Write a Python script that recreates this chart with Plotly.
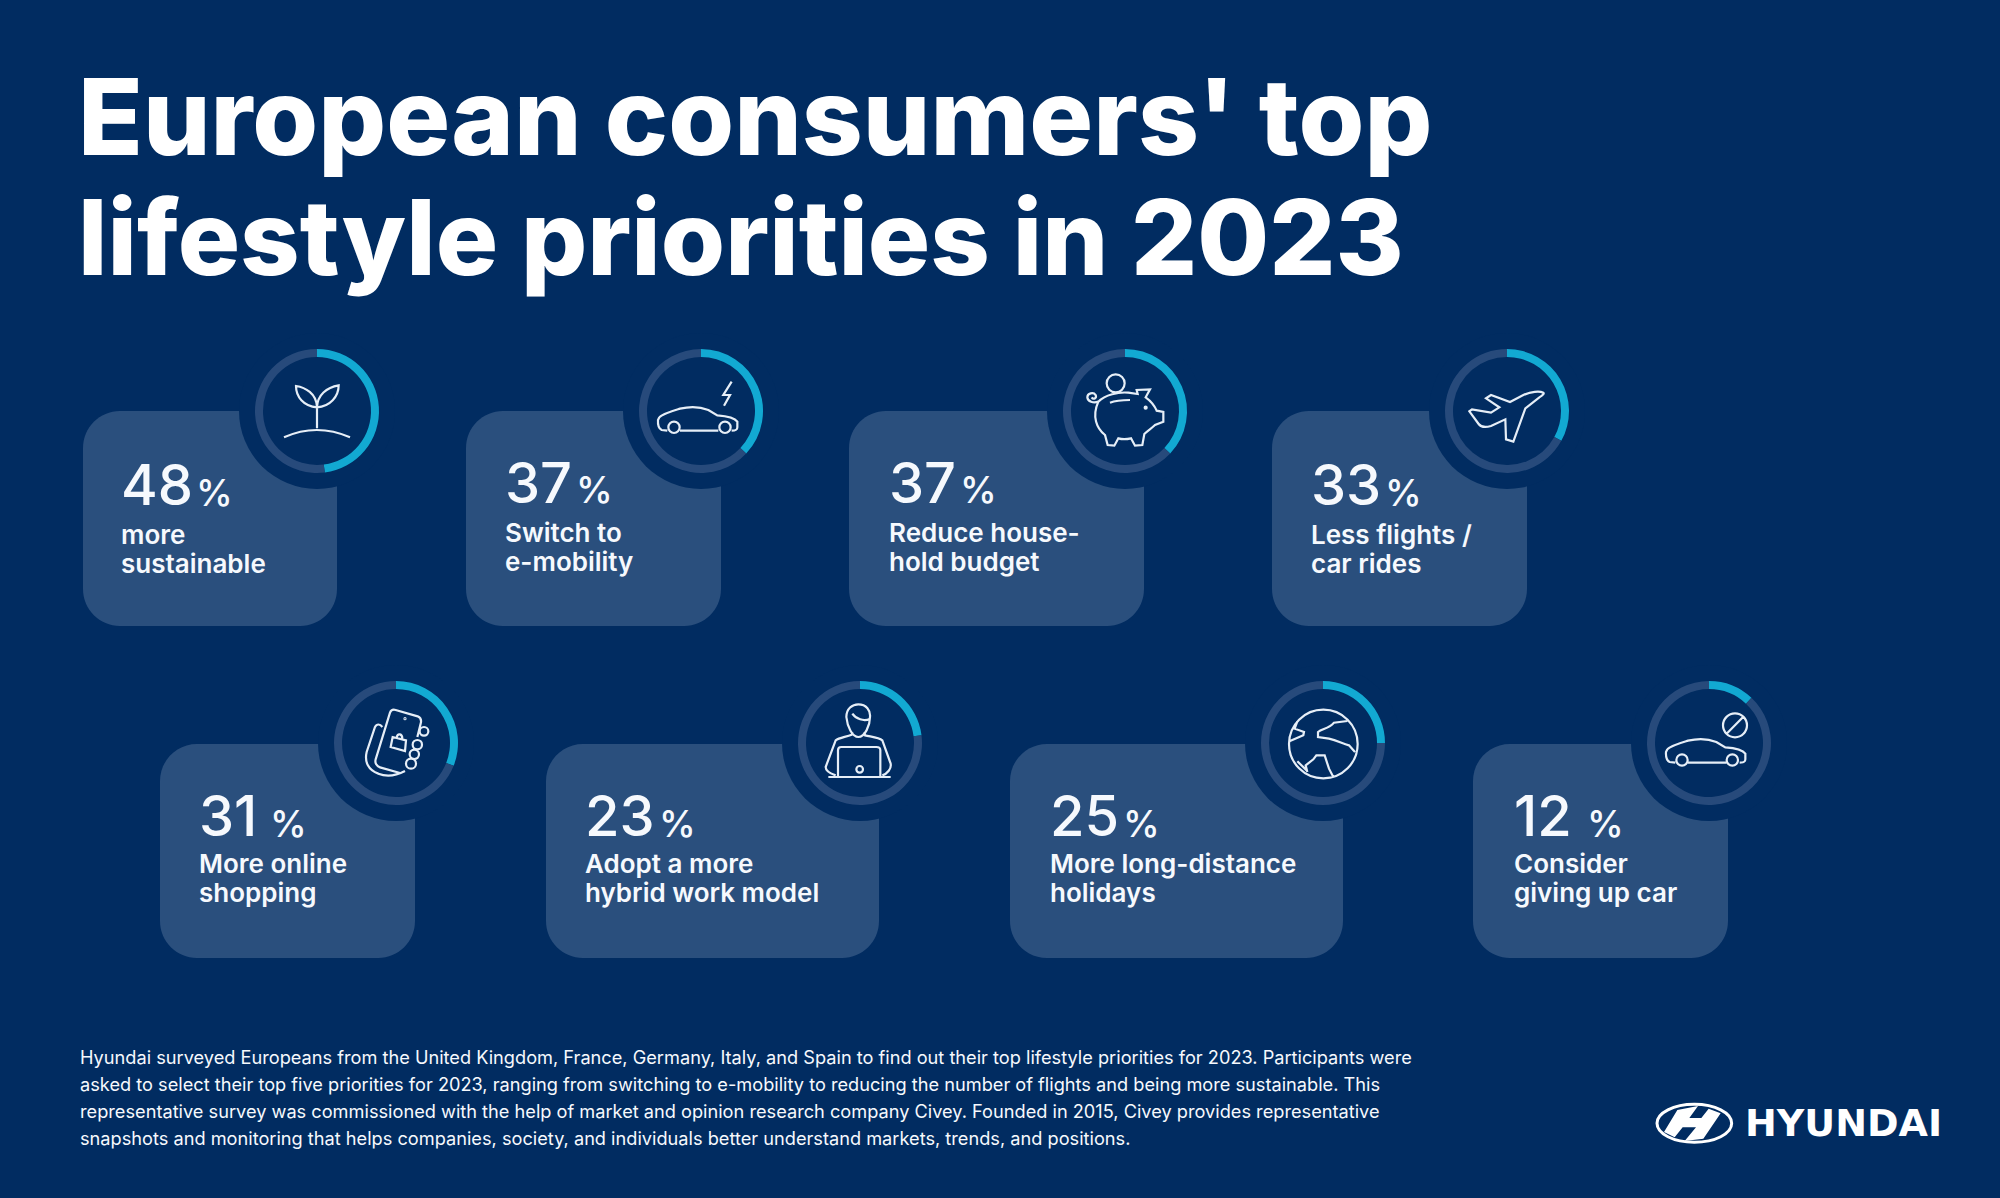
import re
import plotly.graph_objects as go

W, H = 2000, 1198
BG, CARD, TRACK, ARC, INK = "#012c61", "#2a4f7d", "#274a7b", "#12a9d2", "#f6f9fd"
LINE = "#e6eef7"

# ---------- data ----------
values = [48, 37, 37, 33, 31, 23, 25, 12]
labels = [
    ["more", "sustainable"],
    ["Switch to", "e-mobility"],
    ["Reduce house-", "hold budget"],
    ["Less flights /", "car rides"],
    ["More online", "shopping"],
    ["Adopt a more", "hybrid work model"],
    ["More long-distance", "holidays"],
    ["Consider", "giving up car"],
]
title_lines = ["European consumers' top", "lifestyle priorities in 2023"]
footnote = [
    "Hyundai surveyed Europeans from the United Kingdom, France, Germany, Italy, and Spain to find out their top lifestyle priorities for 2023. Participants were",
    "asked to select their top five priorities for 2023, ranging from switching to e-mobility to reducing the number of flights and being more sustainable. This",
    "representative survey was commissioned with the help of market and opinion research company Civey. Founded in 2015, Civey provides representative",
    "snapshots and monitoring that helps companies, society, and individuals better understand markets, trends, and positions.",
]
brand = "HYUNDAI"

# ---------- layout geometry (pixels) ----------
cards = [(83, 337, 411, 626), (466, 721, 411, 626), (849, 1144, 411, 626), (1272, 1527, 411, 626),
         (160, 415, 744, 958), (546, 879, 744, 958), (1010, 1343, 744, 958), (1473, 1728, 744, 958)]
centers = [(317, 411), (701, 411), (1125, 411), (1507, 411),
           (396, 743), (860, 743), (1323, 743), (1709, 743)]
text_x = [120, 504, 888, 1310, 198, 584, 1049, 1513]
pct_x = [195, 575, 959, 1384, 269, 658, 1122, 1586]
num_y = [485, 483, 483, 485, 816, 816, 816, 816]
lab_y = [(534, 563), (532, 561), (532, 561), (534, 563), (863, 892), (863, 892), (863, 892), (863, 892)]
foot_y = [1057, 1084, 1111, 1138]
title_y = [116, 237]
title_size = [106.5, 104]


def fx(x):
    return x / W


def fy(y):
    return 1 - y / H


def tr(path, ox=0.0, oy=0.0, s=1.0):
    out, i = [], 0
    for t in re.findall(r"[MLCQZ]|-?\d+\.?\d*", path):
        if t.isalpha():
            out.append(t)
        else:
            v = float(t)
            if i % 2 == 0:
                out.append(f"{fx(ox + v * s):.5f},")
            else:
                out.append(f"{fy(oy + v * s):.5f}")
            i += 1
    return " ".join(out).replace(", ", ",")


def circ(cx, cy, r):
    k = 0.5523 * r
    return (f"M{cx-r},{cy} C{cx-r},{cy-k} {cx-k},{cy-r} {cx},{cy-r} C{cx+k},{cy-r} {cx+r},{cy-k} {cx+r},{cy} "
            f"C{cx+r},{cy+k} {cx+k},{cy+r} {cx},{cy+r} C{cx-k},{cy+r} {cx-r},{cy+k} {cx-r},{cy} Z")


def rrect(x0, x1, y0, y1, r):
    k = r * 0.4477
    return (f"M{x0+r},{y0} L{x1-r},{y0} C{x1-k},{y0} {x1},{y0+k} {x1},{y0+r} L{x1},{y1-r} "
            f"C{x1},{y1-k} {x1-k},{y1} {x1-r},{y1} L{x0+r},{y1} C{x0+k},{y1} {x0},{y1-k} {x0},{y1-r} "
            f"L{x0},{y0+r} C{x0},{y0+k} {x0+k},{y0} {x0+r},{y0} Z")


CAR = ("M88,232 C100,220 130,212 150,206 C175,200 210,200 235,210 L262,226 C290,228 315,235 322,245 L322,262 "
       "C322,270 318,272 305,272 M265,272 L150,272 M112,272 L95,270 C85,265 83,255 84,240 L88,232 ")

icons = [
    # icon paths are traced in 3x crop coordinates: (path, origin x, origin y)
    ("M672,322 Q770,278 870,322 M771,295 L771,215 "
     "M771,232 C770,190 735,172 708,168 C708,200 730,228 771,232 "
     "M771,232 C772,195 800,172 836,166 C836,200 810,230 771,232", 60, 330),
    (CAR + circ(132, 262, 17) + circ(285, 262, 17) + " M305,125 L280,165 L300,165 L282,197", 630, 340),
    (circ(182, 130, 27) +
     " M130,185 C150,165 190,155 220,158 L248,162 L245,150 L285,148 L272,172 C290,185 300,200 305,212 "
     "L325,216 L325,245 L300,255 C290,265 280,270 268,282 L262,315 L240,317 L228,295 C215,298 200,298 190,295 "
     "L178,317 L158,315 L150,285 C125,265 110,230 130,185 "
     "M130,185 C115,190 98,185 97,172 C97,160 115,155 122,165 C126,175 115,180 110,172 "
     "M165,188 C180,182 200,180 225,180 " + circ(272, 203, 3), 1055, 340),
    ("M322,158 C310,152 285,155 262,165 L222,186 L165,165 L150,175 L190,202 L165,218 L108,208 L100,214 "
     "L128,252 C135,262 150,262 165,258 L208,238 L210,298 L232,305 L268,205 L310,172 C322,165 325,160 322,158 Z",
     1436, 340),
    ("M277,195 L287,155 C290,145 287,137 278,133 L212,114 C205,112 198,114 195,122 L152,262 "
     "C149,273 155,283 165,286 L225,303 "
     "M172,165 C165,155 155,155 150,165 L125,240 C118,270 130,295 160,305 C185,315 215,310 240,297 " +
     circ(297, 178, 13) + " " + circ(277, 218, 14) + " " + circ(268, 247, 14) + " " + circ(258, 275, 15) +
     " M197,225 L203,195 L243,205 L240,237 Z M215,197 C218,182 232,185 232,200 " + circ(240, 140, 1.5), 325, 672),
    ("M172,135 C172,110 190,97 208,97 C232,97 245,115 243,135 C243,160 228,195 208,195 C190,195 175,165 172,135 "
     "M190,125 C200,140 225,150 243,140 "
     "M190,180 L188,188 C170,195 150,197 140,205 L110,285 C110,295 125,305 140,310 "
     "M226,180 L228,190 C250,195 270,197 280,205 L305,275 C308,290 295,305 280,310 "
     "M147,315 L147,235 C147,228 150,225 157,225 L262,225 C270,225 274,228 274,235 L274,315 "
     "M118,315 L305,315 " + circ(212, 292, 10), 789, 672),
    (circ(208, 216, 103) +
     " M130,148 L122,170 L150,180 L148,190 L108,207 "
     "M280,147 L240,152 C225,170 205,170 192,180 L192,195 L225,200 C250,205 265,215 285,220 L303,240 "
     "M160,300 L155,280 L178,262 L187,250 L212,250 L225,290 L238,315 M130,268 L158,295", 1254, 672),
    (CAR + circ(132, 264, 17) + circ(283, 264, 17) + " " + circ(291, 160, 36) + " M265,186 L316,134", 1638, 672),
]

shapes = []
for (x0, x1, y0, y1) in cards:
    shapes.append(dict(type="path", xref="paper", yref="paper", layer="below",
                       path=tr(rrect(x0, x1, y0, y1, 37)), fillcolor=CARD, line_width=0))
for (cx, cy) in centers:
    shapes.append(dict(type="circle", xref="paper", yref="paper", layer="below",
                       x0=fx(cx - 78), x1=fx(cx + 78), y0=fy(cy + 78), y1=fy(cy - 78),
                       fillcolor=BG, line_width=0))
for path, ox, oy in icons:
    shapes.append(dict(type="path", xref="paper", yref="paper", layer="above",
                       path=tr(path, ox, oy, 1 / 3),
                       line=dict(color=LINE, width=2.2), fillcolor="rgba(0,0,0,0)"))

# Logo: oval and slanted H
shapes.append(dict(type="circle", xref="paper", yref="paper", layer="above",
                   x0=fx(1600 + 171 / 3), x1=fx(1600 + 395 / 3), y0=fy(1060 + 247 / 3), y1=fy(1060 + 133 / 3),
                   line=dict(color="#ffffff", width=3), fillcolor="rgba(0,0,0,0)"))
shapes.append(dict(type="path", xref="paper", yref="paper", layer="above",
                   path=tr("M232,150 L294,138 L268,174 L304,174 L326,146 L362,160 L310,236 L254,243 L288,202 "
                           "L248,202 L224,232 L192,216 Z", 1600, 1060, 1 / 3),
                   fillcolor="#ffffff", line_width=0))

traces = []
for v, (cx, cy) in zip(values, centers):
    r = 62
    traces.append(go.Pie(values=[v, 100 - v], sort=False, direction="clockwise", rotation=0,
                         hole=(r - 8) / r, textinfo="none", hoverinfo="skip", showlegend=False,
                         marker=dict(colors=[ARC, TRACK], line=dict(width=0)),
                         domain=dict(x=[fx(cx - r), fx(cx + r)], y=[fy(cy + r), fy(cy - r)])))

ann = []


def text(s, x, y, size, weight=400, family="Inter", color=INK):
    ann.append(dict(text=s, x=fx(x), y=fy(y), xref="paper", yref="paper", xanchor="left", yanchor="middle",
                    showarrow=False, align="left", borderpad=0,
                    font=dict(family=family, size=size, weight=weight, color=color)))


for line, y, size in zip(title_lines, title_y, title_size):
    text(line, 77, y, size, 800, color="#ffffff")
for i, v in enumerate(values):
    text(str(v), text_x[i], num_y[i], 56, 500)
    text("%", pct_x[i], num_y[i] + 7, 37, 500)
    for line, y in zip(labels[i], lab_y[i]):
        text(line, text_x[i], y, 26, 600)
for line, y in zip(footnote, foot_y):
    text(line, 79, y, 18.2, 400)
text(brand, 1744, 1123, 38, 700, family="DejaVu Sans", color="#ffffff")

fig = go.Figure(traces)
fig.update_layout(width=W, height=H, margin=dict(l=0, r=0, t=0, b=0), paper_bgcolor=BG, plot_bgcolor=BG,
                  shapes=shapes, annotations=ann, showlegend=False)
fig.write_html("out.html", config=dict(displayModeBar=False),
               post_script="document.body.style.margin='0';document.body.style.background='#012c61';")
